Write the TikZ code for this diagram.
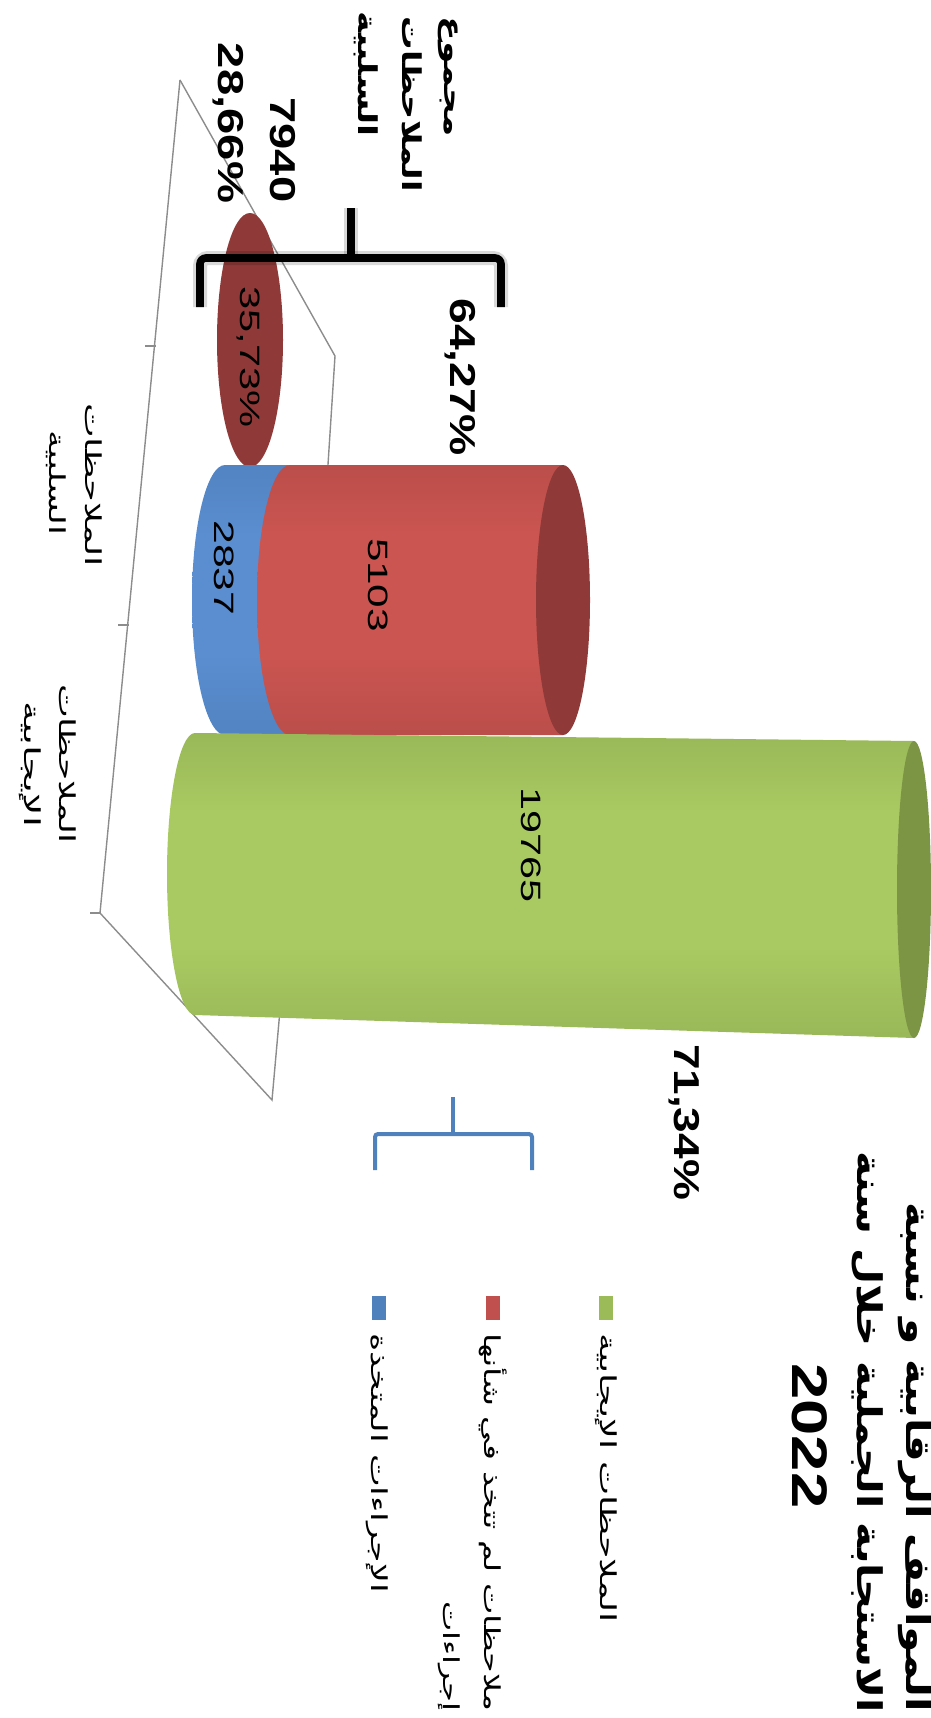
\documentclass[tikz,border=0pt]{standalone}
\usepackage{fontspec}
\usepackage{graphicx}
\setmainfont{Liberation Sans}
\newfontfamily\arabicfont[Script=Arabic]{DejaVu Sans}
\TeXXeTstate=1
\usetikzlibrary{calc}

\definecolor{gdark}{HTML}{4F612A}
\definecolor{gmid}{HTML}{86A24C}
\definecolor{glight}{HTML}{A9CA62}
\definecolor{gcap}{HTML}{7B9545}
\definecolor{rdark}{HTML}{6E2927}
\definecolor{rmid}{HTML}{AA4643}
\definecolor{rlight}{HTML}{CB5551}
\definecolor{rcap}{HTML}{8F3A38}
\definecolor{bdark}{HTML}{34507A}
\definecolor{bmid}{HTML}{4A78B3}
\definecolor{blight}{HTML}{5A8ED0}
\definecolor{lgreen}{HTML}{9BBB59}
\definecolor{lred}{HTML}{C0504D}
\definecolor{lblue}{HTML}{4F81BD}
\definecolor{framegray}{HTML}{8C8C8C}

\pgfdeclareverticalshading{greencyl}{100bp}{color(0bp)=(gdark); color(8bp)=(gmid); color(40bp)=(glight); color(62bp)=(glight); color(90bp)=(gmid); color(100bp)=(gdark)}
\pgfdeclareverticalshading{redcyl}{100bp}{color(0bp)=(rdark); color(10bp)=(rmid); color(40bp)=(rlight); color(62bp)=(rlight); color(88bp)=(rmid); color(100bp)=(rdark)}
\pgfdeclareverticalshading{bluecyl}{100bp}{color(0bp)=(bdark); color(10bp)=(bmid); color(40bp)=(blight); color(62bp)=(blight); color(88bp)=(bmid); color(100bp)=(bdark)}

\newsavebox\fitbox
\newlength\fitlen
\newcommand\fitw[2]{\sbox\fitbox{#2}\setlength\fitlen{\wd\fitbox}\pgfmathsetmacro\fitk{#1*0.5/\fitlen}\scalebox{\fitk}[1]{\usebox\fitbox}}
\newcommand\numB{\fontsize{18}{20}\selectfont\bfseries}
\newcommand\numR{\fontsize{14}{16}\selectfont}
\newcommand\arR[1]{\arabicfont\beginR #1\endR}

\tikzset{
  txt/.style={rotate=-90, inner sep=0pt, outer sep=0pt, text=black},
  frameline/.style={draw=framegray, line width=0.7pt},
  bracek/.style={draw=black, line width=3.8pt, rounded corners=3pt},
  braceshadow/.style={draw=black, opacity=0.15, line width=7pt, rounded corners=4pt},
  braceb/.style={draw=lblue, line width=2pt, rounded corners=1.5pt},
  sq/.style={inner sep=0pt, outer sep=0pt, minimum width=7pt, minimum height=12pt},
}

\begin{document}
\begin{tikzpicture}[x=0.5pt,y=-0.5pt]
\useasboundingbox (0,0) rectangle (931,1718);
\clip (0,0) rectangle (931,1718);

% frame (back planes)
\coordinate (fA) at (180,80);
\coordinate (fB) at (335,356);
\coordinate (fC) at (327,480);
\coordinate (fD) at (100,913);
\coordinate (fE) at (272,1100);
\coordinate (fF) at (280,1010);
\coordinate (tk1) at (154,346);
\coordinate (tk2) at (127,625);
\draw[frameline] (fA) -- (fB) -- (fC);
\draw[frameline] (fA) -- (fD) -- (fE) -- (fF);
\draw[frameline] ($(tk1)+(-9,0)$) -- ($(tk1)+(2,0)$);
\draw[frameline] ($(tk2)+(-9,0)$) -- ($(tk2)+(2,0)$);
\draw[frameline] ($(fD)+(-10,0)$) -- (fD);

% small ellipse
\fill[rcap] (250,340) ellipse [x radius=33, y radius=127];

% blue + red cylinder
\shade[shading=bluecyl] (300,465) -- (225,465) arc[start angle=270, end angle=90, x radius=33, y radius=135] -- (300,735) -- cycle;
\shade[shading=redcyl] (563,465) -- (290,465) arc[start angle=270, end angle=90, x radius=33, y radius=135] -- (563,735) -- cycle;
\fill[rcap] (563,600) ellipse [x radius=27, y radius=135];

% green cylinder
\shade[shading=greencyl] (914,741) -- (195,733) arc[start angle=270, end angle=90, x radius=28, y radius=141] -- (914,1038) -- cycle;
\fill[gcap] (914,889.5) ellipse [x radius=17, y radius=148.5];

% black brace
\draw[braceshadow] (200,307) -- (200,258) -- (501,258) -- (501,307);
\draw[braceshadow] (351,258) -- (351,208);
\draw[bracek] (200,307) -- (200,258) -- (501,258) -- (501,307);
\draw[bracek] (351,260) -- (351,208);

% blue brace
\draw[braceb] (375,1170) -- (375,1134) -- (532,1134) -- (532,1170);
\draw[braceb] (453,1136) -- (453,1097);

% numbers on cylinders
\node[txt] (v2837) at (224,568) {\fitw{95}{\numR 2837}};
\node[txt] (v5103) at (378,585) {\fitw{94}{\numR 5103}};
\node[txt] (v19765) at (531,845) {\fitw{115}{\numR 19765}};
\node[txt] (v3573) at (248,357) {\fitw{141}{\numR 35,73\%}};

% bold numbers
\node[txt] (v6427) at (460,377) {\fitw{157}{\numB 64,27\%}};
\node[txt] (v7940) at (283,150) {\fitw{105}{\numB 7940}};
\node[txt] (v2866) at (228,123) {\fitw{160}{\numB 28,66\%}};
\node[txt] (v7134) at (684,1122) {\fitw{156}{\numB 71,34\%}};

% total negative label
\node[txt, anchor=west] (m1) at (448,17) {\fitw{120}{\fontsize{13}{15}\selectfont\bfseries\arR{مجموع}}};
\node[txt, anchor=west] (m2) at (412,17) {\fitw{175}{\fontsize{13}{15}\selectfont\bfseries\arR{الملاحظات}}};
\node[txt, anchor=west] (m3) at (366,12) {\fitw{125}{\fontsize{13}{15}\selectfont\bfseries\arR{السلبية}}};

% axis labels
\node[txt] (an1) at (94,485) {\fitw{164}{\fontsize{11}{13}\selectfont\arR{الملاحظات}}};
\node[txt] (an2) at (56,483) {\fitw{105}{\fontsize{11}{13}\selectfont\arR{السلبية}}};
\node[txt] (ap1) at (68,764) {\fitw{160}{\fontsize{11}{13}\selectfont\arR{الملاحظات}}};
\node[txt] (ap2) at (30,764) {\fitw{126}{\fontsize{11}{13}\selectfont\arR{الإيجابية}}};

% legend
\node[sq, fill=lgreen] (sqg) at (606,1308) {};
\node[sq, fill=lred] (sqr) at (493,1308) {};
\node[sq, fill=lblue] (sqb) at (379,1308) {};
\node[txt, anchor=west] (lg) at (606,1333) {\fitw{290}{\fontsize{11}{13}\selectfont\arR{الملاحظات الإيجابية}}};
\node[txt, anchor=west] (lb) at (377,1333) {\fitw{260}{\fontsize{11}{13}\selectfont\arR{الإجراءات المتخذة}}};
\node[txt, anchor=west] (lr1) at (493,1333) {\fitw{378}{\fontsize{11}{13}\selectfont\arR{ملاحظات لم تتخذ في شأنها}}};
\node[txt, anchor=east] (lr2) at ($(lr1.east)+(-44,0)$) {\fitw{110}{\fontsize{11}{13}\selectfont\arR{إجراءات}}};

% title
\node[txt, anchor=west] (t1) at (915,1202) {\fitw{510}{\fontsize{17}{19}\selectfont\bfseries\arR{المواقف الرقابية و نسبة}}};
\node[txt, anchor=west] (t2) at (867,1151) {\fitw{562}{\fontsize{17}{19}\selectfont\bfseries\arR{الاستجابة الجملية خلال سنة}}};
\node[txt] (t3) at (810,1436) {\fitw{145}{\fontsize{25}{27}\selectfont\bfseries 2022}};
\end{tikzpicture}
\end{document}
